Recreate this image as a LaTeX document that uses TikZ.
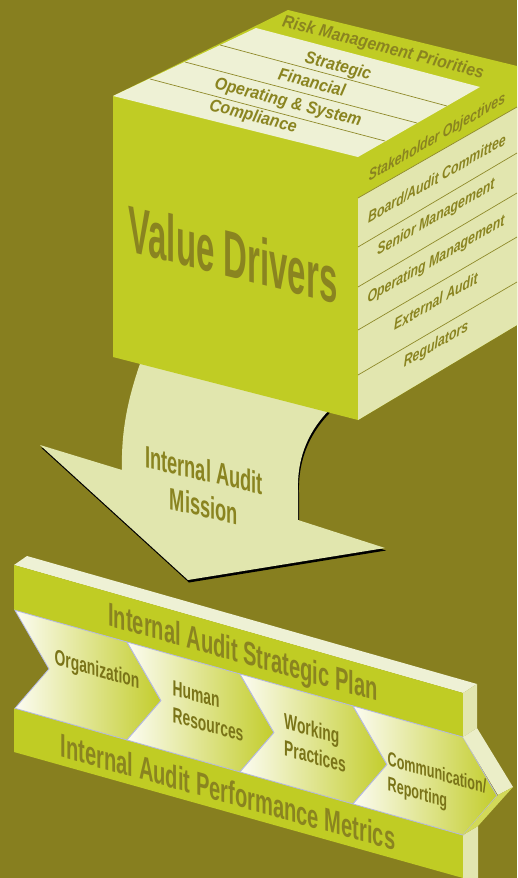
\documentclass[tikz,border=0pt]{standalone}
\usepackage{fontspec}
\setmainfont{Liberation Sans}
\definecolor{bgolive}{HTML}{877F1F}
\definecolor{lime}{HTML}{C0CC24}
\definecolor{creamtop}{HTML}{EEF1D5}
\definecolor{creamside}{HTML}{E2E6AF}
\definecolor{arrowcream}{HTML}{E1E6AE}
\definecolor{txtolive}{HTML}{8A8420}
\definecolor{lineolive}{HTML}{8F8A2A}
\definecolor{chevtxt}{HTML}{7A7418}
\definecolor{chevline}{HTML}{B4B8E2}
\definecolor{chevwhite}{HTML}{FCFCF2}
\definecolor{chevlime}{HTML}{C3CD2C}
\definecolor{sidelow}{HTML}{D2D958}
\definecolor{sideup}{HTML}{EBEEC8}

\begin{document}
\begin{tikzpicture}[x=1pt,y=-1pt,
  faceline/.style={draw=lineolive,line width=0.7pt},
  toplbl/.style={text=txtolive,inner sep=0,font=\fontsize{18}{20}\selectfont\bfseries\itshape,yslant=-0.26,xslant=0.22,xscale=0.85},
  sidelbl/.style={text=txtolive,inner sep=0,font=\fontsize{16}{18}\selectfont\bfseries\itshape,yslant=0.575,xscale=0.77},
  biglbl/.style={text=txtolive,inner sep=0,font=\fontsize{66}{70}\selectfont\bfseries,yslant=-0.253,xscale=0.5},
  misslbl/.style={text=txtolive,inner sep=0,align=center,font=\fontsize{31}{36}\selectfont\bfseries,yslant=-0.23,xscale=0.59},
  slablbl/.style={text=txtolive,inner sep=0,font=\fontsize{33}{36}\selectfont\bfseries,yslant=-0.28,xscale=0.61},
  chevlbl/.style={text=chevtxt,inner sep=0,align=left,font=\fontsize{22}{27}\selectfont\bfseries,yslant=-0.28,xscale=0.63},
  chevron/.style={left color=chevwhite,right color=chevlime,draw=chevline,line width=0.8pt}]

\fill[bgolive] (0,0) rectangle (517,878);
\useasboundingbox (0,0) rectangle (517,878);

% mission arrow, shadow first
\foreach \dx/\dy/\col in {1/2.5/black,0/0/arrowcream}
  \fill[\col,shift={(\dx,\dy)}] (145,350) .. controls (128,395) and (121,430) .. (122,470)
    -- (40,445) -- (188,580) -- (385,548) -- (298,520) -- (298,490)
    .. controls (297,455) and (310,425) .. (340,400) -- cycle;
\node[misslbl] (mission) at (204,488) {Internal Audit\\Mission};

% value driver cube
\fill[lime] (113,96) -- (288,10) -- (517,66) -- (517,325) -- (358,420) -- (113,357) -- cycle;
\fill[creamtop] (113,96) -- (256,28) -- (480,87) -- (358,157) -- cycle;
\fill[creamside] (358,198) -- (517,107) -- (517,325) -- (358,420) -- cycle;
\foreach \xa/\ya/\xb/\yb in {220/45/447/106,185/62/417/123,150/79/385/141}
  \draw[faceline] (\xa,\ya) -- (\xb,\yb);
\foreach \yl/\yr in {198/107,247/153,287/193,330/237,375/282}
  \draw[faceline] (358,\yl) -- (517,\yr);

\node[toplbl] (risk) at (383,48) {Risk Management Priorities};
\node[toplbl] (strat) at (338,67) {Strategic};
\node[toplbl] (fin) at (312,82) {Financial};
\node[toplbl] (opsys) at (288,103) {Operating \& System};
\node[toplbl] (compl) at (253,117) {Compliance};

\node[sidelbl] (stake) at (437,138) {Stakeholder Objectives};
\node[sidelbl] (board) at (437,178) {Board/Audit Committee};
\node[sidelbl] (senior) at (436,218) {Senior Management};
\node[sidelbl] (opman) at (436,260) {Operating Management};
\node[sidelbl] (ext) at (436,301) {External Audit};
\node[sidelbl] (reg) at (436,345) {Regulators};

\node[biglbl] (drivers) at (233,254) {Value Drivers};

% strategic plan slab
\fill[creamtop] (14,565) -- (27,556) -- (477,684) -- (463,693) -- cycle;
\fill[lime] (14,565) -- (463,693) -- (463,737) -- (14,610) -- cycle;
\fill[creamside] (463,693) -- (477,684) -- (477,728) -- (463,737) -- cycle;

% performance metrics slab
\fill[lime] (14,708) -- (463,835) -- (463,878) -- (14,752) -- cycle;
\fill[creamside] (463,835) -- (478,826) -- (478,878) -- (463,878) -- cycle;

% chevrons
\foreach \xl/\xr in {15/127,127/240,240/353,353/463}
  \path[chevron] (\xl,{610+0.283*(\xl-14)}) -- (\xr,{610+0.283*(\xr-14)})
    -- ({\xr+34},{659+0.283*(\xr+20)}) -- (\xr,{708+0.283*(\xr-14)})
    -- (\xl,{708+0.283*(\xl-14)}) -- ({\xl+34},{659+0.283*(\xl+20)}) -- cycle;
\fill[sideup] (463,737) -- (477,728) -- (513,787) -- (498,795) -- cycle;
\fill[sidelow] (498,795) -- (513,787) -- (478,826) -- (463,835) -- cycle;

\node[slablbl] (plan) at (243,655) {Internal Audit Strategic Plan};
\node[slablbl] (metrics) at (228,792) {Internal Audit Performance Metrics};

\node[chevlbl] (org) at (97,671) {Organization};
\node[chevlbl] (hr) at (208,711) {Human\\Resources};
\node[chevlbl] (wp) at (315,743) {Working\\Practices};
\node[chevlbl,font=\fontsize{20}{25}\selectfont\bfseries] (comm) at (437,787) {Communication/\\Reporting};
\end{tikzpicture}
\end{document}
